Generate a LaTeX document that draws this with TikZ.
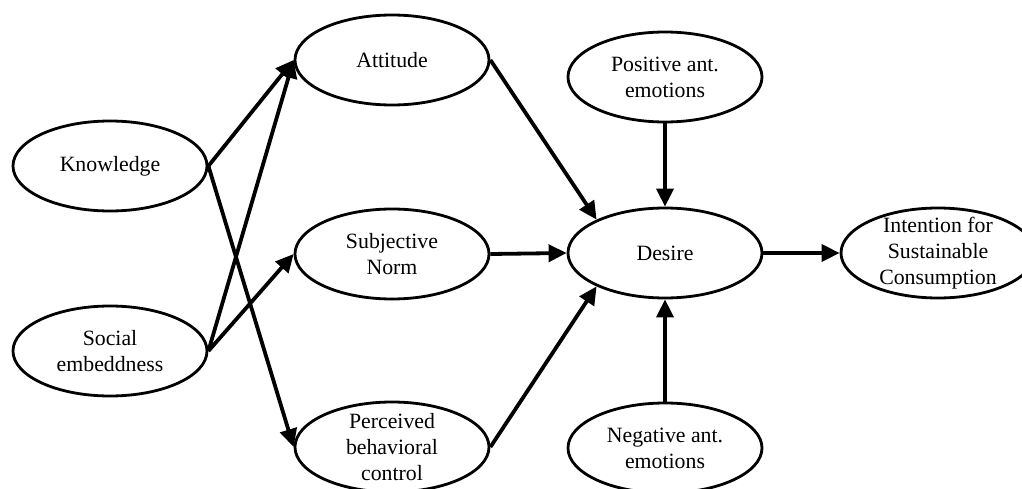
\documentclass[tikz,border=0pt]{standalone}
\usepackage{fontspec}
\setmainfont{Liberation Serif}
\usetikzlibrary{arrows.meta,shapes.geometric}

\begin{document}
\begin{tikzpicture}[x=0.5pt,y=0.5pt,
                font=\fontsize{10.9}{12.9}\selectfont,
                oval/.style={draw, ellipse, line width=1.4pt,
                             minimum width=97pt, minimum height=45pt, inner sep=0pt},
                txt/.style={align=center, inner sep=0pt},
                link/.style={line width=1.9pt, -{Triangle[length=9pt,width=8.5pt]}}]
                \clip (0,0) rectangle (1022,488);
                % left column
                \node[oval, label={[txt]center:Knowledge}] (know) at (110,322) {};
                \node[oval, label={[txt]center:Social\\embeddness}] (soc) at (110,137) {};
                % middle column
                \node[oval, label={[txt]center:Attitude}] (att) at (392,428) {};
                \node[oval, label={[txt]center:Subjective\\Norm}] (norm) at (392,234) {};
                \node[oval, label={[txt]center:Perceived\\behavioral\\control}] (pbc) at (392,41) {};
                % right part
                \node[oval, label={[txt]center:Positive ant.\\emotions}] (pos) at (665,411) {};
                \node[oval, label={[txt]center:Desire}] (des) at (665,235) {};
                \node[oval, label={[txt]center:Negative ant.\\emotions}] (neg) at (665,40) {};
                \node[oval, label={[txt]center:Intention for\\Sustainable\\Consumption}] (int) at (938,235) {};
                % arrows
                \draw[link] (know.east) -- (att.west);
                \draw[link] (know.east) -- (pbc.west);
                \draw[link] (soc.east) -- (att.west);
                \draw[link] (soc.east) -- (norm.west);
                \draw[link] (att.east) -- (des.154);
                \draw[link] (norm.east) -- (des.west);
                \draw[link] (pbc.east) -- (des.206);
                \draw[link] (pos.south) -- (des.north);
                \draw[link] (neg.north) -- (des.south);
                \draw[link] (des.east) -- (int.west);
            \end{tikzpicture}
\end{document}
